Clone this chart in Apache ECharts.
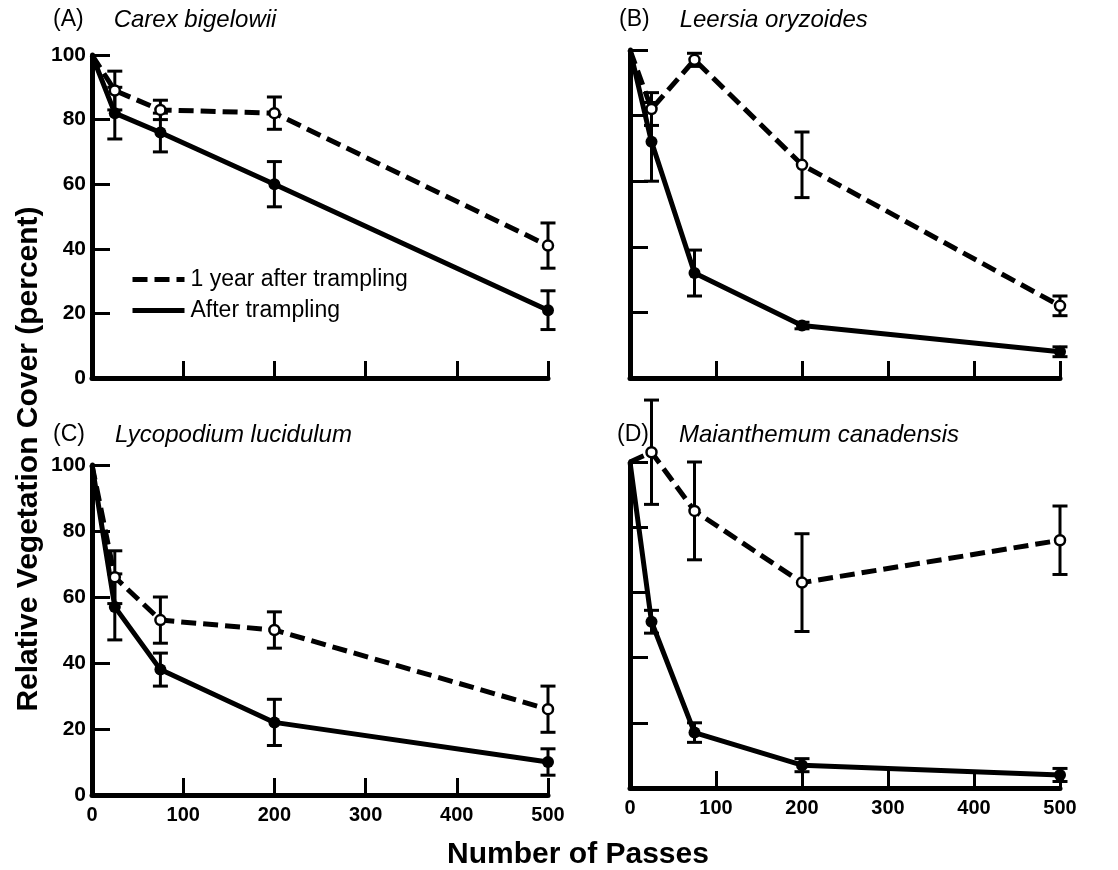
<!DOCTYPE html>
<html>
<head>
<meta charset="utf-8">
<script src="https://cdn.jsdelivr.net/npm/echarts@6/dist/echarts.min.js"></script>
<style>
  html, body { margin: 0; padding: 0; background: #fff; }
  #chart { width: 1118px; height: 870px; }
</style>
</head>
<body>
<div id="chart"></div>
<script>
// x values shared by every panel (number of passes)
const passes = [0, 25, 75, 200, 500]
const xTicks = [0, 100, 200, 300, 400, 500]
const yTicks = [0, 20, 40, 60, 80, 100]

const panelLabels = ['(A)', '(B)', '(C)', '(D)']
const species = ['Carex bigelowii', 'Leersia oryzoides', 'Lycopodium lucidulum', 'Maianthemum canadensis']

// 1 year after trampling (dashed, open circles)
const carexYear = [100, 89, 83, 82, 41]
const carexYearErr = [0, 6, 3, 5, 7]
const leersiaYear = [100, 82, 97, 65, 22]
const leersiaYearErr = [0, 5, 2, 10, 3]
const lycoYear = [100, 66, 53, 50, 26]
const lycoYearErr = [0, 8, 7, 5.5, 7]
const maiaYear = [100, 103, 85, 63, 76]
const maiaYearErr = [0, 16, 15, 15, 10.5]

// after trampling (solid, filled circles)
const carexAfter = [100, 82, 76, 60, 21]
const carexAfterErr = [0, 8, 6, 7, 6]
const leersiaAfter = [100, 72, 32, 16, 8]
const leersiaAfterErr = [0, 12, 7, 1, 1.5]
const lycoAfter = [100, 57, 38, 22, 10]
const lycoAfterErr = [0, 10, 5, 7, 4]
const maiaAfter = [100, 51, 17, 7, 4]
const maiaAfterErr = [0, 3.5, 3, 2, 2]

const yearSets = [[carexYear, carexYearErr], [leersiaYear, leersiaYearErr], [lycoYear, lycoYearErr], [maiaYear, maiaYearErr]]
const afterSets = [[carexAfter, carexAfterErr], [leersiaAfter, leersiaAfterErr], [lycoAfter, lycoAfterErr], [maiaAfter, maiaAfterErr]]

const FONT = '"Liberation Sans", Arial, Helvetica, sans-serif'
const YEAR = '1 year after trampling'
const AFTER = 'After trampling'

const grids = [
  { left: 92, top: 55, width: 456, height: 323 },
  { left: 630, top: 50, width: 430, height: 328 },
  { left: 92, top: 465, width: 456, height: 330 },
  { left: 630, top: 462, width: 430, height: 326 }
]
const titlePos = [[53, 8], [619, 8], [53, 423], [617, 423]]

const chart = echarts.init(document.getElementById('chart'))

function renderErr(params, api) {
  const x = api.value(0)
  const lo = api.coord([x, api.value(1)])
  const hi = api.coord([x, api.value(2)])
  const w = 7.5
  const st = { stroke: '#000', lineWidth: 3 }
  return {
    type: 'group',
    children: [
      { type: 'line', shape: { x1: lo[0], y1: lo[1], x2: hi[0], y2: hi[1] }, style: st },
      { type: 'line', shape: { x1: hi[0] - w, y1: hi[1], x2: hi[0] + w, y2: hi[1] }, style: st },
      { type: 'line', shape: { x1: lo[0] - w, y1: lo[1], x2: lo[0] + w, y2: lo[1] }, style: st }
    ]
  }
}

const series = []
for (let i = 0; i < 4; i++) {
  const sets = [[YEAR, yearSets[i], true], [AFTER, afterSets[i], false]]
  sets.forEach(([name, [vals, errs], dashed]) => {
    series.push({
      type: 'custom',
      xAxisIndex: i, yAxisIndex: i,
      z: 1, clip: false, silent: true,
      renderItem: renderErr,
      encode: { x: 0, y: [1, 2] },
      data: passes.map((p, k) => [p, vals[k] - errs[k], vals[k] + errs[k]]).filter((d, k) => errs[k] > 0)
    })
    series.push({
      type: 'line',
      name,
      xAxisIndex: i, yAxisIndex: i,
      z: 3, clip: false,
      data: passes.map((p, k) => [p, vals[k]]),
      symbol: 'circle',
      symbolSize: (v, p) => p.dataIndex === 0 ? 0 : (dashed ? 10 : 12),
      lineStyle: { color: '#000', width: 5, type: dashed ? [15, 7] : 'solid' },
      itemStyle: dashed
        ? { color: '#fff', borderColor: '#000', borderWidth: 2.5 }
        : { color: '#000', borderColor: '#000', borderWidth: 0 },
      emphasis: { disabled: true }
    })
  })
}

chart.setOption({
  animation: false,
  backgroundColor: '#fff',
  title: panelLabels.map((lab, i) => ({
    left: titlePos[i][0], top: titlePos[i][1], padding: 0,
    text: `{a|${lab}}{b|${species[i]}}`,
    textStyle: {
      fontWeight: 'normal',
      rich: {
        a: { fontFamily: FONT, fontSize: 23, fontWeight: 'normal', color: '#000' },
        b: { fontFamily: FONT, fontSize: 24, fontWeight: 'normal', fontStyle: 'italic', color: '#000', padding: [0, 0, 0, 30] }
      }
    }
  })),
  legend: {
    data: [YEAR, AFTER],
    orient: 'vertical',
    left: 125, top: 263,
    itemWidth: 52, itemHeight: 14, itemGap: 8,
    selectedMode: false,
    itemStyle: { opacity: 0 },
    lineStyle: { width: 5 },
    textStyle: { fontFamily: FONT, fontSize: 23, color: '#000', padding: [0, 0, 0, 1] }
  },
  grid: grids,
  xAxis: grids.map((g, i) => ({
    type: 'value', gridIndex: i,
    min: xTicks[0], max: xTicks[xTicks.length - 1], interval: 100,
    axisLine: { onZero: false, lineStyle: { color: '#000', width: 5 } },
    axisTick: { inside: true, length: 17, lineStyle: { color: '#000', width: 3 } },
    axisLabel: { show: i >= 2, margin: 10, color: '#000', fontFamily: FONT, fontWeight: 'bold', fontSize: 20 },
    splitLine: { show: false }
  })),
  yAxis: grids.map((g, i) => ({
    type: 'value', gridIndex: i,
    min: yTicks[0], max: yTicks[yTicks.length - 1], interval: 20,
    axisLine: { onZero: false, lineStyle: { color: '#000', width: 5 } },
    axisTick: { inside: true, length: 18, lineStyle: { color: '#000', width: 3 } },
    axisLabel: { show: i % 2 === 0, margin: 6, color: '#000', fontFamily: FONT, fontWeight: 'bold', fontSize: 21 },
    splitLine: { show: false }
  })),
  graphic: [
    {
      type: 'text', x: 29, y: 459, rotation: Math.PI / 2,
      style: {
        text: 'Relative Vegetation Cover (percent)', fill: '#000',
        font: `bold 30px ${FONT}`, textAlign: 'center', textVerticalAlign: 'middle'
      }
    },
    {
      type: 'text', x: 578, y: 855,
      style: {
        text: 'Number of Passes', fill: '#000',
        font: `bold 30px ${FONT}`, textAlign: 'center', textVerticalAlign: 'middle'
      }
    }
  ],
  series
})
</script>
</body>
</html>
